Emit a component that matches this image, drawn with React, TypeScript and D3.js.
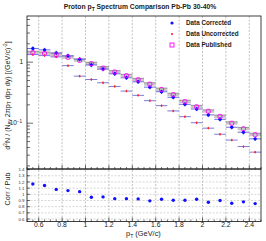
import React from 'react';
import * as d3 from 'd3';

// bin centres (pT, GeV/c), bin width 0.1
const binCenters = [0.55, 0.65, 0.75, 0.85, 0.95, 1.05, 1.15, 1.25, 1.35, 1.45, 1.55, 1.65, 1.75, 1.85, 1.95, 2.05, 2.15, 2.25, 2.35, 2.45];
const corrected = [1.67, 1.59, 1.42, 1.27, 1.12, 0.9, 0.77, 0.645, 0.555, 0.477, 0.39, 0.328, 0.266, 0.204, 0.171, 0.137, 0.116, 0.086, 0.0713, 0.0555];
const uncorrected = [1.33, 1.28, 1.22, 0.877, 0.59, 0.52, 0.46, 0.4, 0.336, 0.286, 0.234, 0.194, 0.159, 0.128, 0.102, 0.083, 0.066, 0.053, 0.0415, 0.0336];
const published = [1.43, 1.39, 1.31, 1.2, 1.07, 0.945, 0.8, 0.69, 0.6, 0.515, 0.436, 0.357, 0.294, 0.226, 0.186, 0.157, 0.129, 0.1, 0.081, 0.065];
const ratio = [1.166, 1.144, 1.08, 1.06, 1.043, 0.952, 0.958, 0.93, 0.93, 0.926, 0.894, 0.92, 0.904, 0.904, 0.92, 0.872, 0.9, 0.856, 0.878, 0.85];
const corrRelErr = 0.08;
const pubRelSys = 0.055;
const xTicks = [0.6, 0.8, 1, 1.2, 1.4, 1.6, 1.8, 2, 2.2, 2.4];
const ratioTicks = [0.6, 0.7, 0.8, 0.9, 1, 1.1, 1.2, 1.3, 1.4];
const legendItems = ['Data Corrected', 'Data Uncorrected', 'Data Published'];

const W = 266;
const H = 241;
const L = 27;
const R = 261;
const T = 16;
const MID = 169;
const B = 221.5;
const font = '"Liberation Sans", Arial, sans-serif';

const App = () => {
  const x = d3.scaleLinear().domain([0.5, 2.5]).range([L, R]);
  const y = d3.scaleLog().domain([0.0178, 5.7]).range([MID, T]);
  const yr = d3.scaleLinear().domain([0.56, 1.41]).range([B, MID]);

  const minorX = d3.range(0.5, 2.5001, 0.05).map((v) => +v.toFixed(2));
  const minorY: number[] = [];
  [0.01, 0.1, 1].forEach((dec) => {
    for (let k = 2; k <= 9; k++) {
      const v = dec * k;
      if (v > 0.0178 && v < 5.7) minorY.push(v);
    }
  });
  const hw = 0.05;

  return (
    <svg width={W} height={H} style={{ position: 'fixed', left: 0, top: 0, background: '#fff' }} fontFamily={font}>
      <rect width={W} height={H} fill="#fff" />
      <text x={140} y={9} fontSize={6.8} fontWeight="bold" textAnchor="middle" fill="#222">
        Proton p<tspan fontSize={5} dy={1.5}>T</tspan><tspan dy={-1.5}> Spectrum Comparison Pb-Pb 30-40%</tspan>
      </text>

      {/* grid */}
      {xTicks.map((t) => (
        <line key={'gx' + t} x1={x(t)} x2={x(t)} y1={T} y2={B} stroke="#999" strokeWidth={0.6} strokeDasharray="2,1.5" />
      ))}
      {ratioTicks.map((t) => (
        <line key={'gr' + t} x1={L} x2={R} y1={yr(t)} y2={yr(t)} stroke="#bbb" strokeWidth={0.6} strokeDasharray="2,1.5" />
      ))}

      {/* published systematics boxes */}
      {binCenters.map((c, i) => {
        const v = published[i];
        const y0 = y(v * (1 + pubRelSys));
        const y1 = y(v * (1 - pubRelSys));
        return (
          <g key={'ps' + i}>
            <rect x={x(c - hw)} width={x(c + hw) - x(c - hw)} y={y0} height={y1 - y0} fill="#c8c8c8" />
            <line x1={x(c - hw)} x2={x(c + hw)} y1={y0} y2={y0} stroke="#666" strokeWidth={0.6} />
          </g>
        );
      })}

      {/* uncorrected */}
      {binCenters.map((c, i) => (
        <g key={'u' + i}>
          <line x1={x(c - hw)} x2={x(c + hw)} y1={y(uncorrected[i])} y2={y(uncorrected[i])} stroke="#5a5acf" strokeWidth={0.8} />
          <line x1={x(c)} x2={x(c)} y1={y(uncorrected[i]) - 1.3} y2={y(uncorrected[i]) + 1.3} stroke="#f22" strokeWidth={0.8} />
          <circle cx={x(c)} cy={y(uncorrected[i])} r={0.9} fill="#f22" />
        </g>
      ))}

      {/* corrected */}
      {binCenters.map((c, i) => (
        <g key={'c' + i}>
          <line x1={x(c - hw)} x2={x(c + hw)} y1={y(corrected[i])} y2={y(corrected[i])} stroke="#7070d8" strokeWidth={1} />
          <line x1={x(c)} x2={x(c)} y1={y(corrected[i] * (1 + corrRelErr))} y2={y(corrected[i] * (1 - corrRelErr))} stroke="#1a1aff" strokeWidth={0.8} />
          <circle cx={x(c)} cy={y(corrected[i])} r={1.7} fill="#1010ff" />
        </g>
      ))}

      {/* published */}
      {binCenters.map((c, i) => (
        <rect key={'p' + i} x={x(c) - 2} y={y(published[i]) - 2} width={4} height={4} rx={1.2} fill="none" stroke="#f0f" strokeWidth={0.9} />
      ))}

      {/* ratio */}
      {binCenters.map((c, i) => (
        <circle key={'r' + i} cx={x(c)} cy={yr(ratio[i])} r={1.7} fill="#1010ff" />
      ))}

      {/* frames */}
      <rect x={L} y={T} width={R - L} height={MID - T} fill="none" stroke="#111" strokeWidth={0.8} />
      <rect x={L} y={MID} width={R - L} height={B - MID} fill="none" stroke="#111" strokeWidth={0.8} />

      {/* x ticks */}
      {minorX.map((t) => {
        const major = xTicks.some((m) => Math.abs(m - t) < 1e-6);
        const len = major ? 4 : 2;
        return (
          <g key={'tx' + t}>
            <line x1={x(t)} x2={x(t)} y1={MID} y2={MID - len} stroke="#111" strokeWidth={0.6} />
            <line x1={x(t)} x2={x(t)} y1={B} y2={B - len} stroke="#111" strokeWidth={0.6} />
          </g>
        );
      })}

      {/* log y ticks */}
      {[0.1, 1].map((t) => (
        <line key={'ty' + t} x1={L} x2={L + 6} y1={y(t)} y2={y(t)} stroke="#111" strokeWidth={0.6} />
      ))}
      {minorY.map((t) => (
        <line key={'tym' + t} x1={L} x2={L + 3} y1={y(t)} y2={y(t)} stroke="#111" strokeWidth={0.6} />
      ))}
      <text x={23} y={y(1) + 2.2} fontSize={6.5} textAnchor="end" fill="#222">1</text>
      <text x={22} y={y(0.1) + 2.2} fontSize={6.5} textAnchor="end" fill="#222">
        10<tspan fontSize={4.5} dy={-2.5}>−1</tspan>
      </text>

      {/* ratio y ticks */}
      {ratioTicks.map((t) => (
        <g key={'tr' + t}>
          <line x1={L} x2={L + 3} y1={yr(t)} y2={yr(t)} stroke="#111" strokeWidth={0.6} />
          <text x={24.5} y={yr(t) + 1.6} fontSize={4.4} textAnchor="end" fill="#333">{t}</text>
        </g>
      ))}

      {/* x tick labels */}
      {xTicks.map((t) => (
        <text key={'lx' + t} x={x(t)} y={227} fontSize={6.8} textAnchor="middle" fill="#222">{t}</text>
      ))}
      <text x={126} y={236} fontSize={7.4} fill="#222">
        p<tspan fontSize={5.2} dy={1.5}>T</tspan><tspan dy={-1.5}> (GeV/c)</tspan>
      </text>

      {/* axis titles */}
      <text transform={`translate(9.5,${(T + MID) / 2 + 3}) rotate(-90)`} fontSize={7.2} textAnchor="middle" fill="#222">
        d<tspan fontSize={4.8} dy={-2.3}>2</tspan><tspan dy={2.3}>N / (N</tspan><tspan fontSize={4.8} dy={1.6}>ev</tspan><tspan dy={-1.6}> 2πp</tspan><tspan fontSize={4.8} dy={1.6}>T</tspan><tspan dy={-1.6}> dp</tspan><tspan fontSize={4.8} dy={1.6}>T</tspan><tspan dy={-1.6}> dy) [(GeV/c)</tspan><tspan fontSize={4.8} dy={-2.3}>-2</tspan><tspan dy={2.3}>]</tspan>
      </text>
      <text transform={`translate(10,189) rotate(-90)`} fontSize={7.2} textAnchor="middle" fill="#222">Corr / Pub</text>

      {/* legend */}
      {legendItems.map((name, i) => {
        const ly = 23 + i * 11;
        return (
          <g key={'lg' + i}>
            {i === 0 && <circle cx={172} cy={ly} r={1.6} fill="#1010ff" />}
            {i === 1 && <circle cx={172} cy={ly} r={1.1} fill="#f22" />}
            {i === 2 && <rect x={170} y={ly - 2} width={4} height={4} fill="none" stroke="#f0f" strokeWidth={0.9} />}
            <text x={186} y={ly + 2.2} fontSize={6.3} fontWeight="bold" fill="#222">{name}</text>
          </g>
        );
      })}
    </svg>
  );
};

export default App;
